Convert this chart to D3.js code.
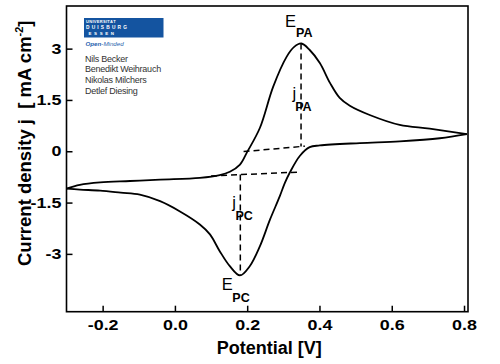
<!DOCTYPE html>
<html>
<head>
<meta charset="utf-8">
<script src="https://cdn.jsdelivr.net/npm/d3@7"></script>
<style>
  body { margin: 0; background: #fff; }
  svg { display: block; font-family: "Liberation Sans", Arial, sans-serif; }
</style>
</head>
<body>
<div id="chart"></div>
<script>
// forward (anodic) sweep, -0.3 V -> 0.81 V
var anodicE = [-0.300, -0.263, -0.207, -0.124, -0.041, 0.069, 0.124, 0.152, 0.180, 0.200, 0.235, 0.272, 0.309, 0.330, 0.350, 0.373, 0.401, 0.429, 0.456, 0.484, 0.539, 0.622, 0.705, 0.808];
var anodicJ = [-1.09, -0.98, -0.91, -0.87, -0.83, -0.78, -0.70, -0.60, -0.39, -0.02, 0.68, 1.89, 2.76, 3.05, 3.15, 2.96, 2.58, 2.00, 1.56, 1.33, 1.06, 0.77, 0.66, 0.50];
// reverse (cathodic) sweep, 0.81 V -> -0.3 V
var cathodicE = [0.808, 0.733, 0.622, 0.512, 0.401, 0.373, 0.346, 0.318, 0.304, 0.290, 0.263, 0.235, 0.207, 0.180, 0.152, 0.124, 0.097, 0.069, 0.014, -0.041, -0.097, -0.150, -0.207, -0.263, -0.300];
var cathodicJ = [0.50, 0.38, 0.29, 0.24, 0.17, 0.12, -0.13, -0.62, -0.93, -1.32, -2.00, -2.78, -3.36, -3.63, -3.36, -2.92, -2.43, -2.14, -1.76, -1.46, -1.27, -1.21, -1.15, -1.12, -1.09];

// peaks and baselines
var peakE = [0.349, 0.181];
var peakJ = [3.15, -3.63];
var baseAnodicE = [0.19, 0.36];
var baseAnodicJ = [-0.01, 0.15];
var baseCathodicE = [0.10, 0.34];
var baseCathodicJ = [-0.72, -0.61];

var xTicks = [-0.2, 0.0, 0.2, 0.4, 0.6, 0.8];
var yTicks = [-3, -1.5, 0, 1.5, 3];
var authors = ["Nils Becker", "Benedikt Weihrauch", "Nikolas Milchers", "Detlef Diesing"];

var width = 500, height = 364;
var svg = d3.select("#chart").append("svg").attr("width", width).attr("height", height);

var x = d3.scaleLinear().domain([-0.3, 0.811]).range([66.5, 468]);
var y = d3.scaleLinear().domain([-4.69, 4.246]).range([311.7, 6]);

// frame
svg.append("rect")
    .attr("x", x.range()[0]).attr("y", y.range()[1])
    .attr("width", x.range()[1] - x.range()[0])
    .attr("height", y.range()[0] - y.range()[1])
    .attr("fill", "none").attr("stroke", "#000").attr("stroke-width", 1.6);

var xAxis = svg.append("g")
    .attr("transform", "translate(0," + y.range()[0] + ")")
    .call(d3.axisBottom(x).tickValues(xTicks).tickSize(-6).tickPadding(8.5)
        .tickFormat(function (d) { return d.toFixed(1); }));
var yAxis = svg.append("g")
    .attr("transform", "translate(" + x.range()[0] + ",0)")
    .call(d3.axisLeft(y).tickValues(yTicks).tickSize(-6).tickPadding(4)
        .tickFormat(function (d) { return String(d); }));

[xAxis, yAxis].forEach(function (a) {
    a.select(".domain").remove();
    a.selectAll(".tick line").attr("stroke", "#000").attr("stroke-width", 1.5);
    a.selectAll(".tick text")
        .attr("fill", "#000")
        .attr("font-family", "Liberation Sans, Arial, sans-serif")
        .attr("font-size", 14)
        .attr("font-weight", "bold")
        .attr("transform", "scale(1.28,1)");
});

// cyclic voltammogram
var line = d3.line()
    .x(function (d) { return x(d[0]); })
    .y(function (d) { return y(d[1]); })
    .curve(d3.curveCatmullRom.alpha(0.5));

svg.append("path")
    .datum(d3.zip(anodicE, anodicJ))
    .attr("d", line)
    .attr("fill", "none").attr("stroke", "#000").attr("stroke-width", 1.8);
svg.append("path")
    .datum(d3.zip(cathodicE, cathodicJ))
    .attr("d", line)
    .attr("fill", "none").attr("stroke", "#000").attr("stroke-width", 1.8);

// dashed construction lines
var straight = d3.line().x(function (d) { return x(d[0]); }).y(function (d) { return y(d[1]); });
var dashed = [
    d3.zip(baseAnodicE, baseAnodicJ),
    d3.zip(baseCathodicE, baseCathodicJ),
    [[peakE[0], peakJ[0]], [peakE[0], baseAnodicJ[0] + (baseAnodicJ[1] - baseAnodicJ[0]) * (peakE[0] - baseAnodicE[0]) / (baseAnodicE[1] - baseAnodicE[0])]],
    [[peakE[1], baseCathodicJ[0] + (baseCathodicJ[1] - baseCathodicJ[0]) * (peakE[1] - baseCathodicE[0]) / (baseCathodicE[1] - baseCathodicE[0])], [peakE[1], peakJ[1]]]
];
svg.selectAll(".dash").data(dashed).enter().append("path")
    .attr("class", "dash")
    .attr("d", straight)
    .attr("fill", "none").attr("stroke", "#000").attr("stroke-width", 1.5)
    .attr("stroke-dasharray", "6,4");

// peak labels
function label(px, py, main, sub, subDx, subDy) {
    var t = svg.append("text").attr("x", px).attr("y", py).attr("font-size", 16.5).attr("fill", "#000");
    t.append("tspan").text(main);
    t.append("tspan").attr("dx", subDx).attr("dy", subDy).attr("font-size", 12.5).attr("font-weight", "bold").text(sub);
}
label(x(peakE[0]) - 16, 26.5, "E", "PA", 0, 10);
label(x(peakE[0]) - 8.5, 99, "j", "PA", -1, 12);
label(x(peakE[1]) - 8, 208, "j", "PC", -0.5, 11.5);
label(x(peakE[1]) - 18.5, 290, "E", "PC", -0.5, 11.7);

// logo
var logo = svg.append("g");
logo.append("rect").attr("x", 84).attr("y", 18).attr("width", 79.5).attr("height", 19.5).attr("fill", "#1454a0");
logo.append("text").attr("x", 86).attr("y", 22.6).attr("font-size", 4).attr("font-weight", "bold")
    .attr("fill", "#fff").attr("letter-spacing", 0.3).text("UNIVERSITÄT");
logo.append("text").attr("x", 86).attr("y", 29.4).attr("font-size", 4.8).attr("font-weight", "bold")
    .attr("fill", "#fff").attr("letter-spacing", 2.2).text("DUISBURG");
logo.append("text").attr("x", 88.6).attr("y", 34.6).attr("font-size", 4.4).attr("font-weight", "bold")
    .attr("fill", "#fff").attr("letter-spacing", 2.6).text("ESSEN");
var om = logo.append("text").attr("x", 85.5).attr("y", 45.6).attr("font-size", 6.2)
    .attr("font-style", "italic").attr("fill", "#1f5fae");
om.append("tspan").attr("font-weight", "bold").text("Open-");
om.append("tspan").text("Minded");

svg.selectAll(".author").data(authors).enter().append("text")
    .attr("class", "author")
    .attr("x", 85)
    .attr("y", function (d, i) { return 61.5 + i * 10.7; })
    .attr("font-size", 9)
    .attr("letter-spacing", -0.25)
    .attr("fill", "#333")
    .text(function (d) { return d; });

// axis titles
svg.append("text")
    .attr("x", (x.range()[0] + x.range()[1]) / 2 + 2)
    .attr("y", 353.5)
    .attr("text-anchor", "middle")
    .attr("font-size", 18).attr("font-weight", "bold")
    .text("Potential [V]");

var yl = svg.append("text")
    .attr("transform", "translate(30.5,266) rotate(-90)")
    .attr("font-size", 18.5).attr("font-weight", "bold")
    .style("white-space", "pre");
yl.append("tspan").text("Current density j  [ mA cm");
yl.append("tspan").attr("dy", -8).attr("font-size", 11).text("-2");
yl.append("tspan").attr("dy", 8).text("]");
</script>
</body>
</html>
